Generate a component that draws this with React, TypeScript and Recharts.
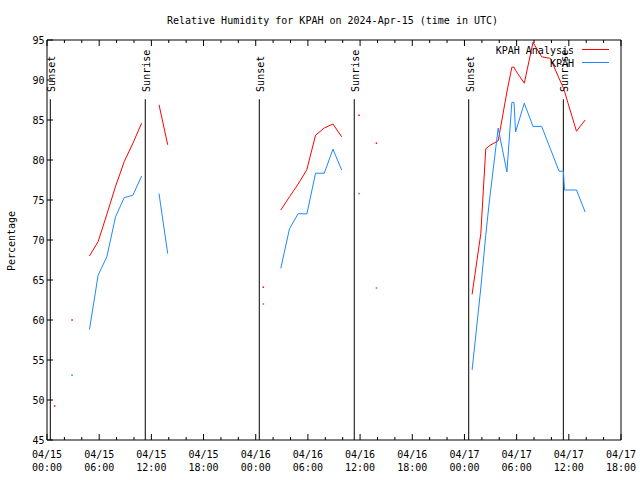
import { LineChart, Line, XAxis, YAxis, ReferenceLine, Legend, Customized } from 'recharts';

const FONT = '"DejaVu Sans Mono", monospace';

// hours since 04/15 00:00 UTC
const hours = [
    0.88, 1.88, 2.88, 3.88, 4.88, 5.88, 6.88, 7.88, 8.88, 9.88, 10.88, 11.88, 12.88, 13.88, 14.88,
    24.88, 25.88, 26.88, 27.88, 28.88, 29.88, 30.88, 31.88, 32.88, 33.88, 34.88, 35.88, 36.88, 37.88, 38.88,
    48.88, 49.88, 50.45, 50.88, 51.88, 52.88, 53.45, 53.7, 53.88, 54.88, 55.88, 56.88, 57.88, 58.88,
    59.38, 59.5, 59.88, 60.88, 61.88,
];
const analysis = [
    49.25, null, 60.0, null, 68.0, 69.8, 73.2, 76.7, 79.8, 82.1, 84.6, null, 86.9, 81.9, null,
    64.1, null, 73.75, 75.4, 77.0, 78.8, 83.1, 84.0, 84.5, 82.9, null, 85.6, null, 82.1, null,
    63.2, 70.8, 81.4, 81.8, 82.4, 88.5, 91.6, 91.6, 91.2, 89.6, 94.7, 92.9, 92.7, 90.2,
    89.0, 88.6, 87.2, 83.6, 85.0,
];
const observed = [
    null, null, 53.1, null, 58.8, 65.6, 67.9, 72.9, 75.3, 75.6, 78.0, null, 75.8, 68.3, null,
    62.0, null, 66.45, 71.4, 73.3, 73.25, 78.35, 78.35, 81.35, 78.75, null, 75.8, null, 64.0, null,
    53.75, 64.0, 70.6, 75.0, 84.0, 78.5, 87.2, 87.2, 83.5, 87.1, 84.2, 84.2, 81.4, 78.6,
    78.6, 76.25, 76.25, 76.25, 73.5,
];

const sunsetHours = [0.38, 24.41, 48.49];
const sunriseHours = [11.3, 35.33, 59.37];
const sunLineTop = 87.6;

const dayLabels = ['04/15', '04/16', '04/17'];
const xTicks = [0, 2, 4, 6, 8, 10, 12, 14, 16, 18, 20, 22, 24, 26, 28, 30, 32, 34, 36, 38, 40, 42, 44, 46, 48, 50, 52, 54, 56, 58, 60, 62, 64, 66];
const yTicks = [45, 50, 55, 60, 65, 70, 75, 80, 85, 90, 95];

const seriesOrder = ['KPAH Analysis', 'KPAH'];

const data = hours.map((t, i) => ({ t, analysis: analysis[i], obs: observed[i] }));

const isolated = (key: string, i: number) => {
    const prev: any = data[i - 1];
    const next: any = data[i + 1];
    return (!prev || prev[key] == null) && (!next || next[key] == null);
};

const makeDot = (key: string, color: string) => (props: any) => {
    const { cx, cy, index } = props;
    const row: any = data[index];
    if (!row || row[key] == null || !isolated(key, index)) return <g key={`${key}-${index}`} />;
    return <rect key={`${key}-${index}`} x={cx - 0.75} y={cy - 0.75} width={1.5} height={1.5} fill={color} />;
};

const BottomTick = (props: any) => {
    const { x, y, payload } = props;
    const v = payload.value;
    const major = v % 6 === 0;
    const hh = String(v % 24).padStart(2, '0') + ':00';
    return (
        <g>
            <line x1={x} y1={y} x2={x} y2={y - (major ? 6 : 3)} stroke="#000" />
            {major && (
                <text fontFamily={FONT} fontSize={10} textAnchor="middle" fill="#000">
                    <tspan x={x} y={y + 17.5}>{dayLabels[Math.floor(v / 24)]}</tspan>
                    <tspan x={x} y={y + 30.7}>{hh}</tspan>
                </text>
            )}
        </g>
    );
};

const TopTick = (props: any) => {
    const { x, y, payload } = props;
    const major = payload.value % 6 === 0;
    return <line x1={x} y1={y} x2={x} y2={y + (major ? 6 : 3)} stroke="#000" />;
};

const LeftTick = (props: any) => {
    const { x, y, payload } = props;
    return (
        <g>
            <line x1={x} y1={y} x2={x + 6} y2={y} stroke="#000" />
            <text x={x - 2.5} y={y + 3.5} textAnchor="end" fontFamily={FONT} fontSize={10} fill="#000">
                {payload.value}
            </text>
        </g>
    );
};

const RightTick = (props: any) => {
    const { x, y } = props;
    return <line x1={x} y1={y} x2={x - 6} y2={y} stroke="#000" />;
};

const SunLabel = ({ viewBox, text }: any) => {
    if (!viewBox) return null;
    const x = viewBox.x + 5;
    const y = viewBox.y - 7.3;
    return (
        <text x={x} y={y} transform={`rotate(-90 ${x} ${y})`} fontFamily={FONT} fontSize={10} fill="#000">
            {text}
        </text>
    );
};

const YTitle = ({ viewBox }: any) => {
    if (!viewBox) return null;
    const x = 15;
    const y = viewBox.y + viewBox.height / 2 + 1;
    return (
        <text x={x} y={y} transform={`rotate(-90 ${x} ${y})`} textAnchor="middle" fontFamily={FONT} fontSize={10} fill="#000">
            Percentage
        </text>
    );
};

const renderLegend = ({ payload }: any) => {
    const entries = seriesOrder
        .map((name) => (payload || []).find((p: any) => p.value === name))
        .filter(Boolean);
    return (
        <div style={{ position: 'relative', width: 640, fontFamily: FONT, fontSize: 10, lineHeight: '12px', color: '#000' }}>
            {entries.map((e: any, i: number) => (
                <div key={e.value}>
                    <span style={{ position: 'absolute', right: 66, top: 44.5 + i * 13.2, whiteSpace: 'nowrap' }}>{e.value}</span>
                    <span style={{ position: 'absolute', left: 582, width: 27, top: 49 + i * 13.3, borderTop: `1px solid ${e.color}` }} />
                </div>
            ))}
        </div>
    );
};

const Title = () => (
    <text x={332.5} y={24} textAnchor="middle" fontFamily={FONT} fontSize={10} fill="#000">
        Relative Humidity for KPAH on 2024-Apr-15 (time in UTC)
    </text>
);

export default function App() {
    return (
        <div style={{ position: 'absolute', left: 0, top: 0, width: 640, height: 480, background: '#fff' }}>
            <LineChart width={640} height={480} data={data} margin={{ top: 39, right: 18, bottom: 0, left: 0 }}>
                <Customized component={<Title />} />
                <XAxis
                    xAxisId="bottom"
                    dataKey="t"
                    type="number"
                    domain={[0, 66]}
                    ticks={xTicks}
                    interval={0}
                    height={40}
                    tickSize={0}
                    tickMargin={0}
                    tickLine={false}
                    axisLine={{ stroke: '#000' }}
                    tick={<BottomTick />}
                />
                <XAxis
                    xAxisId="top"
                    orientation="top"
                    dataKey="t"
                    type="number"
                    domain={[0, 66]}
                    ticks={xTicks}
                    interval={0}
                    height={1}
                    tickSize={0}
                    tickMargin={0}
                    tickLine={false}
                    axisLine={{ stroke: '#000' }}
                    tick={<TopTick />}
                />
                <YAxis
                    yAxisId="left"
                    type="number"
                    domain={[45, 95]}
                    ticks={yTicks}
                    interval={0}
                    width={47}
                    tickSize={0}
                    tickMargin={0}
                    tickLine={false}
                    axisLine={{ stroke: '#000' }}
                    tick={<LeftTick />}
                    label={<YTitle />}
                />
                <YAxis
                    yAxisId="right"
                    orientation="right"
                    type="number"
                    domain={[45, 95]}
                    ticks={yTicks}
                    interval={0}
                    width={1}
                    tickSize={0}
                    tickMargin={0}
                    tickLine={false}
                    axisLine={{ stroke: '#000' }}
                    tick={<RightTick />}
                />
                {sunsetHours.map((h) => (
                    <ReferenceLine
                        key={`ss-${h}`}
                        xAxisId="bottom"
                        yAxisId="left"
                        segment={[{ x: h, y: sunLineTop }, { x: h, y: 45 }]}
                        stroke="#000"
                        label={<SunLabel text="Sunset" />}
                    />
                ))}
                {sunriseHours.map((h) => (
                    <ReferenceLine
                        key={`sr-${h}`}
                        xAxisId="bottom"
                        yAxisId="left"
                        segment={[{ x: h, y: sunLineTop }, { x: h, y: 45 }]}
                        stroke="#000"
                        label={<SunLabel text="Sunrise" />}
                    />
                ))}
                <Line
                    xAxisId="bottom"
                    yAxisId="left"
                    type="linear"
                    dataKey="analysis"
                    name="KPAH Analysis"
                    stroke="#ff0000"
                    strokeWidth={1}
                    connectNulls={false}
                    dot={makeDot('analysis', '#ff0000')}
                    activeDot={false}
                    isAnimationActive={false}
                />
                <Line
                    xAxisId="bottom"
                    yAxisId="left"
                    type="linear"
                    dataKey="obs"
                    name="KPAH"
                    stroke="#1e88ff"
                    strokeWidth={1}
                    connectNulls={false}
                    dot={makeDot('obs', '#1e88ff')}
                    activeDot={false}
                    isAnimationActive={false}
                />
                <Legend
                    layout="vertical"
                    align="center"
                    verticalAlign="middle"
                    wrapperStyle={{ left: 0, top: 0, width: 640, height: 0 }}
                    content={renderLegend}
                />
            </LineChart>
        </div>
    );
}
